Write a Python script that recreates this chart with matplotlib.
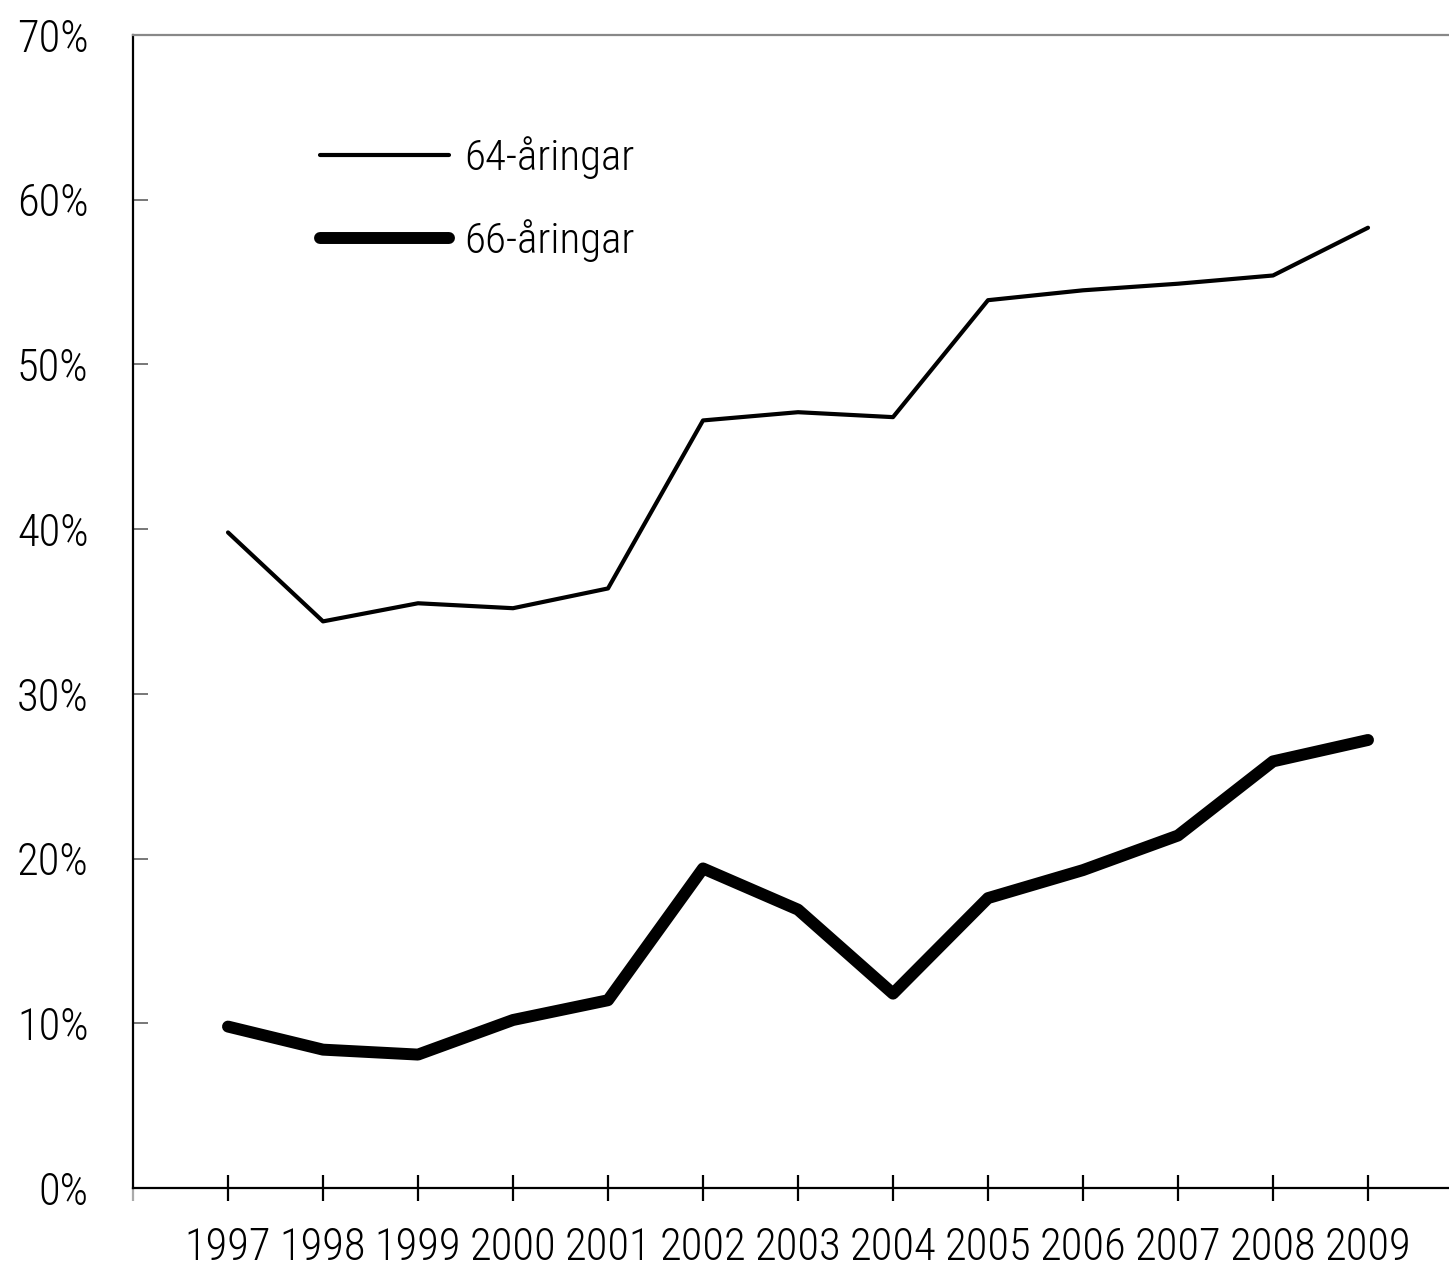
import matplotlib; matplotlib.use('Agg')
import matplotlib.pyplot as plt
from matplotlib.ticker import FuncFormatter

plt.rcParams['font.family'] = ['Roboto Condensed', 'DejaVu Sans']
plt.rcParams['font.weight'] = 'light'

years = [1997, 1998, 1999, 2000, 2001, 2002, 2003, 2004, 2005, 2006, 2007, 2008, 2009]
age64 = [39.8, 34.4, 35.5, 35.2, 36.4, 46.6, 47.1, 46.8, 53.9, 54.5, 54.9, 55.4, 58.3]
age66 = [9.8, 8.4, 8.1, 10.2, 11.4, 19.4, 16.9, 11.8, 17.6, 19.3, 21.4, 25.9, 27.2]

fig = plt.figure(figsize=(14.49, 12.67), dpi=100)
ax = fig.add_axes([133/1449, 1 - 1188/1267, 1 - 133/1449, (1188 - 35)/1267])

ax.plot(years, age64, color='black', lw=3.0, solid_capstyle='round',
        solid_joinstyle='round', label='64-åringar')
ax.plot(years, age66, color='black', lw=8.6, solid_capstyle='round',
        solid_joinstyle='round', label='66-åringar')

ax.set_xlim(1996, 1996 + 1316/95)
ax.set_ylim(0, 70)
ax.set_yticks(range(0, 71, 10))
ax.yaxis.set_major_formatter(FuncFormatter(lambda v, p: f'{int(v)}%'))
ax.set_xticks(years)
ax.set_xticks([1996], minor=True)

ax.spines['right'].set_visible(False)
ax.spines['top'].set_color('#888888')
ax.spines['top'].set_linewidth(1.6)
ax.spines['left'].set_linewidth(1.6)
ax.spines['bottom'].set_linewidth(1.6)

ax.tick_params(axis='y', direction='in', length=11, width=1.4, color='#777777',
               labelsize=32, pad=32)
ax.tick_params(axis='x', which='major', direction='inout', length=19, width=1.6,
               labelsize=32, pad=18)
ax.tick_params(axis='x', which='minor', direction='out', length=9, width=1.6,
               color='#aaaaaa')

ax.legend(loc='upper left', bbox_to_anchor=(0.129, 0.927), frameon=False,
          fontsize=31, handlelength=3.0, handletextpad=0.35, labelspacing=0.93,
          borderaxespad=0)

plt.savefig('out.png', dpi=100)
plt.close()
